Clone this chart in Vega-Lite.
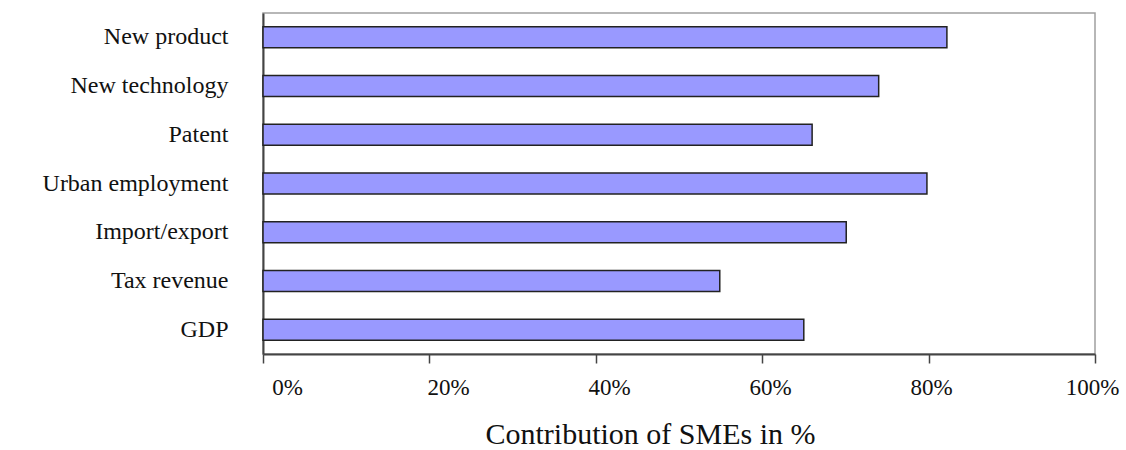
{
  "$schema": "https://vega.github.io/schema/vega-lite/v6.json",
  "autosize": {"type": "none"},
  "padding": {"left": 263, "top": 13, "right": 31, "bottom": 96},
  "width": 832,
  "height": 341,
  "background": "white",
  "config": {
    "view": {"stroke": "#a0a0a0", "strokeWidth": 1.5},
    "font": "Liberation Serif"
  },
  "data": {
    "values": [
      {"category": "New product", "value": 0.822},
      {"category": "New technology", "value": 0.740},
      {"category": "Patent", "value": 0.660},
      {"category": "Urban employment", "value": 0.798},
      {"category": "Import/export", "value": 0.701},
      {"category": "Tax revenue", "value": 0.549},
      {"category": "GDP", "value": 0.650}
    ]
  },
  "mark": {"type": "bar", "color": "#9999FF", "stroke": "#222222", "strokeWidth": 1.5},
  "encoding": {
    "y": {
      "field": "category",
      "type": "nominal",
      "sort": null,
      "scale": {"paddingInner": 0.57, "paddingOuter": 0.28},
      "axis": {
        "title": null,
        "ticks": false,
        "domainColor": "#444444",
        "domainWidth": 2,
        "labelFont": "Liberation Serif",
        "labelFontSize": 24,
        "labelColor": "#111111",
        "labelPadding": 35,
        "labelDy": -3,
        "labelLimit": 300
      }
    },
    "x": {
      "field": "value",
      "type": "quantitative",
      "scale": {"domain": [0, 1], "nice": false},
      "axis": {
        "values": [0, 0.2, 0.4, 0.6, 0.8, 1],
        "format": ".0%",
        "grid": false,
        "domainColor": "#444444",
        "domainWidth": 2,
        "tickColor": "#444444",
        "tickWidth": 1.5,
        "tickSize": 9,
        "labelFont": "Liberation Serif",
        "labelFontSize": 23,
        "labelColor": "#111111",
        "labelPadding": 13,
        "labelFlush": false,
        "labelOffset": {"expr": "24 - 27 * datum.value"},
        "title": "Contribution of SMEs in %",
        "titleFont": "Liberation Serif",
        "titleFontSize": 30,
        "titleFontWeight": "normal",
        "titleColor": "#111111",
        "titlePadding": 20,
        "titleX": 387
      }
    }
  }
}
